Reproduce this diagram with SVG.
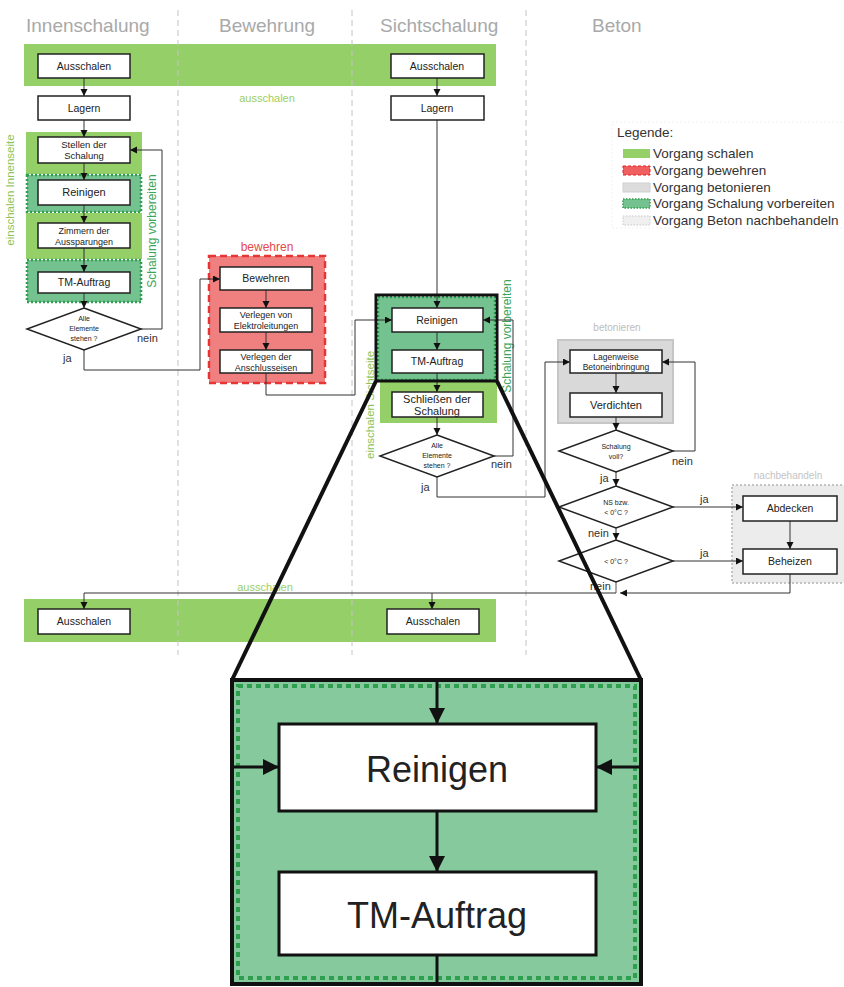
<svg xmlns="http://www.w3.org/2000/svg" width="844" height="987" viewBox="0 0 844 987">
<style>
text{font-family:"Liberation Sans",Arial,sans-serif;fill:#222}
.hd{font-size:19px;fill:#a9a9a9}
.bx{fill:#fff;stroke:#222;stroke-width:1.5}
.t{font-size:10.5px;text-anchor:middle}
.ts{font-size:9px;text-anchor:middle}
.td{font-size:7px;text-anchor:middle}
.lb{font-size:11px;fill:#333}
.sep{stroke:#c4c4c4;stroke-width:1;stroke-dasharray:6 4;fill:none}
.ln{fill:none;stroke:#555;stroke-width:1}
.ar{fill:none;stroke:#333;stroke-width:1;marker-end:url(#m)}
.lg{fill:#95cf67}
.dg{fill:#74c28f;stroke:#2e9e4f;stroke-width:2.5;stroke-dasharray:2 2}
.dia{fill:#fff;stroke:#222;stroke-width:1.5}
.leg{font-size:13.5px;fill:#333}
</style>
<defs>
<marker id="m" markerUnits="userSpaceOnUse" markerWidth="8" markerHeight="8" refX="7" refY="3.5" orient="auto"><path d="M0,0 L7,3.5 L0,7 z" fill="#111"/></marker>
<marker id="M" markerUnits="userSpaceOnUse" markerWidth="20" markerHeight="20" refX="16" refY="8" orient="auto"><path d="M0,0 L16,8 L0,16 z" fill="#111"/></marker>
</defs>

<rect width="844" height="987" fill="#fff"/>

<g id="headings">
<text class="hd" x="26" y="32">Innenschalung</text>
<text class="hd" x="219" y="32">Bewehrung</text>
<text class="hd" x="380" y="32">Sichtschalung</text>
<text class="hd" x="592" y="32">Beton</text>
</g>

<g id="bands">
<rect class="lg" x="24" y="44" width="472" height="42"/>
<text x="267" y="102" style="font-size:11px;fill:#9ccf62;text-anchor:middle">ausschalen</text>
<rect class="lg" x="24" y="599" width="472" height="43"/>
<text x="265" y="591" style="font-size:11px;fill:#9ccf62;text-anchor:middle">ausschalen</text>
</g>

<g id="separators">
<line class="sep" x1="178" y1="10" x2="178" y2="655"/>
<line class="sep" x1="352" y1="10" x2="352" y2="655"/>
<line class="sep" x1="526" y1="10" x2="526" y2="655"/>
</g>

<g id="regions">
<rect class="lg" x="26" y="132" width="116" height="42"/>
<rect class="dg" x="27" y="175" width="114" height="37"/>
<rect class="lg" x="26" y="213" width="116" height="46"/>
<rect class="dg" x="27" y="260" width="114" height="42"/>
<text transform="translate(14,190) rotate(-90)" style="font-size:11.5px;fill:#8dc45a;text-anchor:middle">einschalen Innenseite</text>
<text transform="translate(156,231) rotate(-90)" style="font-size:12px;fill:#3aa55a;text-anchor:middle">Schalung vorbereiten</text>
<rect x="209" y="256" width="116" height="127" fill="#f08080" stroke="#e53535" stroke-width="2.5" stroke-dasharray="7 4"/>
<text x="267" y="251" style="font-size:12px;fill:#e34a4a;text-anchor:middle">bewehren</text>
<rect class="dg" x="378" y="297" width="117" height="83"/>
<rect class="lg" x="380" y="382" width="117" height="41"/>
<text transform="translate(374,405) rotate(-90)" style="font-size:11.5px;fill:#8dc45a;text-anchor:middle">einschalen Sichtseite</text>
<text transform="translate(511,336) rotate(-90)" style="font-size:12px;fill:#3aa55a;text-anchor:middle">Schalung vorbereiten</text>
<rect x="558" y="340" width="115" height="83" fill="#d9d9d9" stroke="#c6c6c6" stroke-width="2"/>
<text x="617" y="331" style="font-size:10px;fill:#bdbdbd;text-anchor:middle">betonieren</text>
<rect x="732" y="485" width="116" height="98" fill="#ececec" stroke="#c4c4c4" stroke-width="2" stroke-dasharray="2 2"/>
<text x="788" y="479" style="font-size:10px;fill:#c4c4c4;text-anchor:middle">nachbehandeln</text>
</g>

<g id="connectors">
<line class="ar" x1="84" y1="78" x2="84" y2="96"/>
<line class="ar" x1="84" y1="120" x2="84" y2="137"/>
<line class="ar" x1="84" y1="163" x2="84" y2="180"/>
<line class="ar" x1="84" y1="205" x2="84" y2="223"/>
<line class="ar" x1="84" y1="248" x2="84" y2="272"/>
<line class="ar" x1="84" y1="293" x2="84" y2="308"/>
<polyline class="ar" points="141,329 162,329 162,150 130,150"/>
<polyline class="ar" points="84,350 84,370 200,370 200,279 220,279"/>
<line class="ar" x1="266" y1="290" x2="266" y2="308"/>
<line class="ar" x1="266" y1="332" x2="266" y2="350"/>
<polyline class="ar" points="266,373 266,395 355,395 355,320 392,320"/>
<line class="ar" x1="437" y1="78" x2="437" y2="96"/>
<line class="ar" x1="437" y1="120" x2="437" y2="308"/>
<line class="ar" x1="437" y1="332" x2="437" y2="350"/>
<line class="ar" x1="437" y1="373" x2="437" y2="392"/>
<line class="ar" x1="437" y1="417" x2="437" y2="435"/>
<polyline class="ar" points="494,456 513,456 513,320 483,320"/>
<polyline class="ar" points="437,477 437,497 545,497 545,362 570,362"/>
<line class="ar" x1="616" y1="373" x2="616" y2="393"/>
<line class="ar" x1="616" y1="417" x2="616" y2="430"/>
<polyline class="ar" points="673,451 695,451 695,362 662,362"/>
<line class="ar" x1="616" y1="472" x2="616" y2="486"/>
<line class="ar" x1="673" y1="507" x2="743" y2="507"/>
<line class="ar" x1="616" y1="528" x2="616" y2="540"/>
<line class="ar" x1="673" y1="561" x2="743" y2="561"/>
<line class="ln" x1="616" y1="582" x2="616" y2="593"/>
<line class="ar" x1="790" y1="521" x2="790" y2="549"/>
<polyline class="ar" points="790,574 790,593 620,593"/>
<polyline class="ar" points="616,593 84,593 84,609"/>
<line class="ar" x1="432" y1="593" x2="432" y2="609"/>
</g>

<g id="labels">
<text class="lb" x="137" y="342">nein</text>
<text class="lb" x="63" y="362">ja</text>
<text class="lb" x="491" y="468">nein</text>
<text class="lb" x="421" y="491">ja</text>
<text class="lb" x="672" y="465">nein</text>
<text class="lb" x="600" y="482">ja</text>
<text class="lb" x="700" y="503">ja</text>
<text class="lb" x="588" y="537">nein</text>
<text class="lb" x="700" y="557">ja</text>
<text class="lb" x="590" y="590">nein</text>
</g>

<g id="n-ausschalen-l"><rect class="bx" x="38" y="54" width="92" height="24"/><text class="t" x="84" y="70">Ausschalen</text></g>
<g id="n-lagern-l"><rect class="bx" x="38" y="96" width="92" height="24"/><text class="t" x="84" y="112">Lagern</text></g>
<g id="n-stellen"><rect class="bx" x="38" y="137" width="92" height="26"/><text class="ts" x="84" y="148" style="font-size:9.5px">Stellen der</text><text class="ts" x="84" y="159" style="font-size:9.5px">Schalung</text></g>
<g id="n-reinigen-l"><rect class="bx" x="38" y="180" width="92" height="25"/><text class="t" x="84" y="196" style="font-size:11px">Reinigen</text></g>
<g id="n-zimmern"><rect class="bx" x="38" y="223" width="92" height="25"/><text class="ts" x="84" y="234">Zimmern der</text><text class="ts" x="84" y="245">Aussparungen</text></g>
<g id="n-tm-l"><rect class="bx" x="38" y="272" width="92" height="21"/><text class="t" x="84" y="286">TM-Auftrag</text></g>
<g id="n-dia-l"><polygon class="dia" points="84,308 141,329 84,350 27,329"/><text class="td" x="84" y="321">Alle</text><text class="td" x="84" y="331">Elemente</text><text class="td" x="84" y="341">stehen ?</text></g>

<g id="n-bewehren"><rect class="bx" x="220" y="267" width="92" height="23"/><text class="t" x="266" y="282">Bewehren</text></g>
<g id="n-elektro"><rect class="bx" x="220" y="308" width="92" height="24"/><text class="ts" x="266" y="318">Verlegen von</text><text class="ts" x="266" y="329">Elektroleitungen</text></g>
<g id="n-anschluss"><rect class="bx" x="220" y="350" width="92" height="23"/><text class="ts" x="266" y="360">Verlegen der</text><text class="ts" x="266" y="371">Anschlusseisen</text></g>

<g id="n-ausschalen-r"><rect class="bx" x="391" y="54" width="93" height="24"/><text class="t" x="437" y="70">Ausschalen</text></g>
<g id="n-lagern-r"><rect class="bx" x="391" y="96" width="93" height="24"/><text class="t" x="437" y="112">Lagern</text></g>
<g id="n-reinigen-r"><rect class="bx" x="392" y="308" width="91" height="24"/><text class="t" x="437" y="324">Reinigen</text></g>
<g id="n-tm-r"><rect class="bx" x="392" y="350" width="91" height="23"/><text class="t" x="437" y="365">TM-Auftrag</text></g>
<g id="n-schliessen"><rect class="bx" x="392" y="392" width="91" height="25"/><text class="t" x="437" y="403" style="font-size:11px">Schließen der</text><text class="t" x="437" y="415" style="font-size:11px">Schalung</text></g>
<g id="n-dia-r"><polygon class="dia" points="437,435 494,456 437,477 380,456"/><text class="td" x="437" y="448">Alle</text><text class="td" x="437" y="458">Elemente</text><text class="td" x="437" y="468">stehen ?</text></g>
<rect id="focus" x="376" y="295" width="121" height="86" fill="none" stroke="#111" stroke-width="3"/>

<g id="n-lagenweise"><rect class="bx" x="570" y="350" width="92" height="23"/><text class="ts" x="616" y="360" style="font-size:8.5px">Lagenweise</text><text class="ts" x="616" y="370" style="font-size:8.5px">Betoneinbringung</text></g>
<g id="n-verdichten"><rect class="bx" x="570" y="393" width="92" height="24"/><text class="t" x="616" y="409" style="font-size:11px">Verdichten</text></g>
<g id="n-dia-voll"><polygon class="dia" points="616,430 673,451 616,472 559,451"/><text class="td" x="616" y="449">Schalung</text><text class="td" x="616" y="459">voll?</text></g>
<g id="n-dia-ns"><polygon class="dia" points="616,486 673,507 616,528 559,507"/><text class="td" x="616" y="505">NS bzw.</text><text class="td" x="616" y="515">&lt; 0°C ?</text></g>
<g id="n-dia-0"><polygon class="dia" points="616,540 673,561 616,582 559,561"/><text class="td" x="616" y="564">&lt; 0°C ?</text></g>
<g id="n-abdecken"><rect class="bx" x="743" y="496" width="94" height="25"/><text class="t" x="790" y="512">Abdecken</text></g>
<g id="n-beheizen"><rect class="bx" x="743" y="549" width="94" height="25"/><text class="t" x="790" y="565">Beheizen</text></g>

<g id="n-ausschalen-bl"><rect class="bx" x="38" y="609" width="92" height="25"/><text class="t" x="84" y="625">Ausschalen</text></g>
<g id="n-ausschalen-br"><rect class="bx" x="387" y="609" width="92" height="25"/><text class="t" x="433" y="625">Ausschalen</text></g>

<g id="legend">
<rect x="612" y="122" width="240" height="106" fill="none" stroke="#f0f0f0" stroke-dasharray="2 2"/>
<text class="leg" x="617" y="137">Legende:</text>
<rect x="623" y="149" width="27" height="9" fill="#95cf67"/>
<text class="leg" x="653" y="158">Vorgang schalen</text>
<rect x="623" y="166" width="27" height="9" fill="#f06060" stroke="#e02020" stroke-dasharray="3 2"/>
<text class="leg" x="653" y="175">Vorgang bewehren</text>
<rect x="623" y="183" width="27" height="9" fill="#dcdcdc" stroke="#cfcfcf"/>
<text class="leg" x="653" y="192">Vorgang betonieren</text>
<rect x="623" y="199" width="27" height="9" fill="#74c28f" stroke="#2e9e4f" stroke-width="1.5" stroke-dasharray="1.5 1.5"/>
<text class="leg" x="653" y="208">Vorgang Schalung vorbereiten</text>
<rect x="623" y="216" width="27" height="9" fill="#f0f0f0" stroke="#c8c8c8" stroke-dasharray="1.5 1.5"/>
<text class="leg" x="653" y="225">Vorgang Beton nachbehandeln</text>
</g>

<g id="zoom-lines">
<line x1="376" y1="381" x2="232" y2="680" stroke="#111" stroke-width="4"/>
<line x1="497" y1="381" x2="641" y2="680" stroke="#111" stroke-width="4"/>
</g>

<g id="inset">
<rect x="232" y="680" width="409" height="304" fill="#85c99c" stroke="#111" stroke-width="4"/>
<rect x="238" y="686" width="397" height="292" fill="none" stroke="#2e9e4f" stroke-width="4" stroke-dasharray="5 4"/>
<line x1="437" y1="682" x2="437" y2="724" stroke="#111" stroke-width="3" marker-end="url(#M)"/>
<line x1="234" y1="767" x2="279" y2="767" stroke="#111" stroke-width="3" marker-end="url(#M)"/>
<line x1="639" y1="767" x2="596" y2="767" stroke="#111" stroke-width="3" marker-end="url(#M)"/>
<line x1="437" y1="811" x2="437" y2="872" stroke="#111" stroke-width="3" marker-end="url(#M)"/>
<line x1="437" y1="955" x2="437" y2="982" stroke="#111" stroke-width="3"/>
<g id="n-inset-reinigen"><rect x="279" y="724" width="317" height="87" fill="#fff" stroke="#111" stroke-width="3"/><text x="437" y="782" style="font-size:36px;text-anchor:middle">Reinigen</text></g>
<g id="n-inset-tm"><rect x="279" y="872" width="317" height="83" fill="#fff" stroke="#111" stroke-width="3"/><text x="437" y="928" style="font-size:36px;text-anchor:middle">TM-Auftrag</text></g>
</g>
</svg>
